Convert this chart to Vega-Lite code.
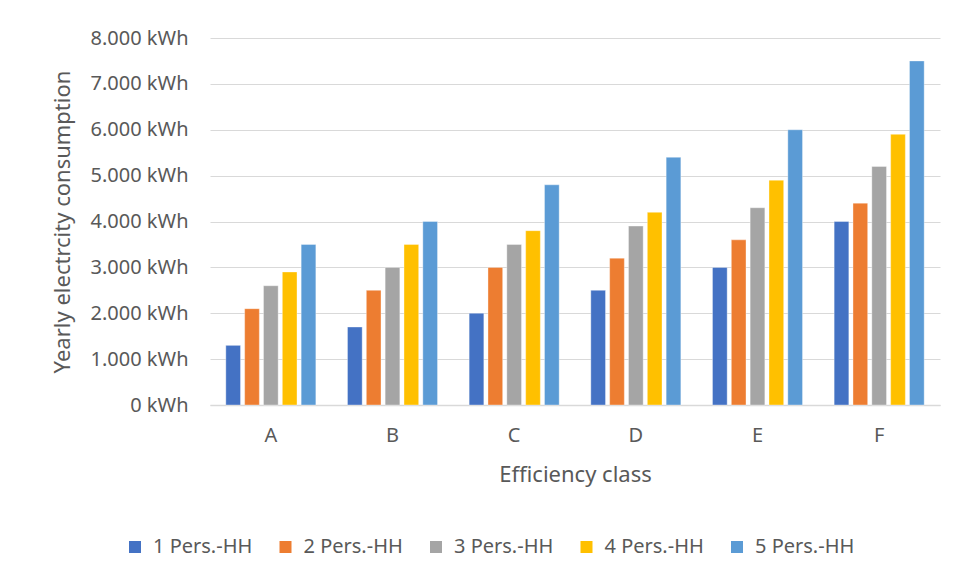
{
  "$schema": "https://vega.github.io/schema/vega-lite/v6.json",
  "autosize": "none",
  "width": 730,
  "height": 367,
  "padding": {"left": 210, "top": 38, "right": 22, "bottom": 173},
  "background": "white",
  "data": {
    "values": [
      {"cls": "A", "hh": "1 Pers.-HH", "kwh": 1300},
      {"cls": "A", "hh": "2 Pers.-HH", "kwh": 2100},
      {"cls": "A", "hh": "3 Pers.-HH", "kwh": 2600},
      {"cls": "A", "hh": "4 Pers.-HH", "kwh": 2900},
      {"cls": "A", "hh": "5 Pers.-HH", "kwh": 3500},
      {"cls": "B", "hh": "1 Pers.-HH", "kwh": 1700},
      {"cls": "B", "hh": "2 Pers.-HH", "kwh": 2500},
      {"cls": "B", "hh": "3 Pers.-HH", "kwh": 3000},
      {"cls": "B", "hh": "4 Pers.-HH", "kwh": 3500},
      {"cls": "B", "hh": "5 Pers.-HH", "kwh": 4000},
      {"cls": "C", "hh": "1 Pers.-HH", "kwh": 2000},
      {"cls": "C", "hh": "2 Pers.-HH", "kwh": 3000},
      {"cls": "C", "hh": "3 Pers.-HH", "kwh": 3500},
      {"cls": "C", "hh": "4 Pers.-HH", "kwh": 3800},
      {"cls": "C", "hh": "5 Pers.-HH", "kwh": 4800},
      {"cls": "D", "hh": "1 Pers.-HH", "kwh": 2500},
      {"cls": "D", "hh": "2 Pers.-HH", "kwh": 3200},
      {"cls": "D", "hh": "3 Pers.-HH", "kwh": 3900},
      {"cls": "D", "hh": "4 Pers.-HH", "kwh": 4200},
      {"cls": "D", "hh": "5 Pers.-HH", "kwh": 5400},
      {"cls": "E", "hh": "1 Pers.-HH", "kwh": 3000},
      {"cls": "E", "hh": "2 Pers.-HH", "kwh": 3600},
      {"cls": "E", "hh": "3 Pers.-HH", "kwh": 4300},
      {"cls": "E", "hh": "4 Pers.-HH", "kwh": 4900},
      {"cls": "E", "hh": "5 Pers.-HH", "kwh": 6000},
      {"cls": "F", "hh": "1 Pers.-HH", "kwh": 4000},
      {"cls": "F", "hh": "2 Pers.-HH", "kwh": 4400},
      {"cls": "F", "hh": "3 Pers.-HH", "kwh": 5200},
      {"cls": "F", "hh": "4 Pers.-HH", "kwh": 5900},
      {"cls": "F", "hh": "5 Pers.-HH", "kwh": 7500}
    ]
  },
  "mark": {"type": "bar", "stroke": "white", "strokeWidth": 0.6, "strokeOpacity": 0.6},
  "encoding": {
    "x": {
      "field": "cls",
      "type": "nominal",
      "scale": {"paddingInner": 0.26, "paddingOuter": 0.13},
      "axis": {
        "title": "Efficiency class",
        "labelAngle": 0,
        "labelPadding": 20,
        "titlePadding": 19,
        "ticks": false,
        "grid": false,
        "domainColor": "#D9D9D9",
        "domainWidth": 1.5
      }
    },
    "xOffset": {
      "field": "hh",
      "type": "nominal",
      "scale": {"paddingInner": 0.22}
    },
    "y": {
      "field": "kwh",
      "type": "quantitative",
      "scale": {"domain": [0, 8000]},
      "axis": {
        "title": "Yearly electrcity consumption",
        "values": [0, 1000, 2000, 3000, 4000, 5000, 6000, 7000, 8000],
        "labelExpr": "replace(format(datum.value, ','), ',', '.') + ' kWh'",
        "labelPadding": 22,
        "titlePadding": 16,
        "ticks": false,
        "domain": false,
        "gridColor": "#D9D9D9",
        "gridWidth": 1.2
      }
    },
    "color": {
      "field": "hh",
      "type": "nominal",
      "scale": {
        "domain": ["1 Pers.-HH", "2 Pers.-HH", "3 Pers.-HH", "4 Pers.-HH", "5 Pers.-HH"],
        "range": ["#4472C4", "#ED7D31", "#A5A5A5", "#FFC000", "#5B9BD5"]
      },
      "legend": {
        "title": null,
        "orient": "none",
        "direction": "horizontal",
        "legendX": -85,
        "legendY": 499,
        "symbolType": "square",
        "symbolSize": 144,
        "symbolStrokeWidth": 0,
        "labelOffset": 8,
        "columnPadding": 22.5
      }
    }
  },
  "config": {
    "font": "Noto Sans",
    "view": {"stroke": null},
    "axis": {
      "labelFont": "Noto Sans",
      "labelFontSize": 20,
      "labelColor": "#595959",
      "titleFont": "Noto Sans",
      "titleFontSize": 22,
      "titleFontWeight": "normal",
      "titleColor": "#595959"
    },
    "legend": {
      "labelFont": "Noto Sans",
      "labelFontSize": 20,
      "labelColor": "#595959"
    }
  }
}
